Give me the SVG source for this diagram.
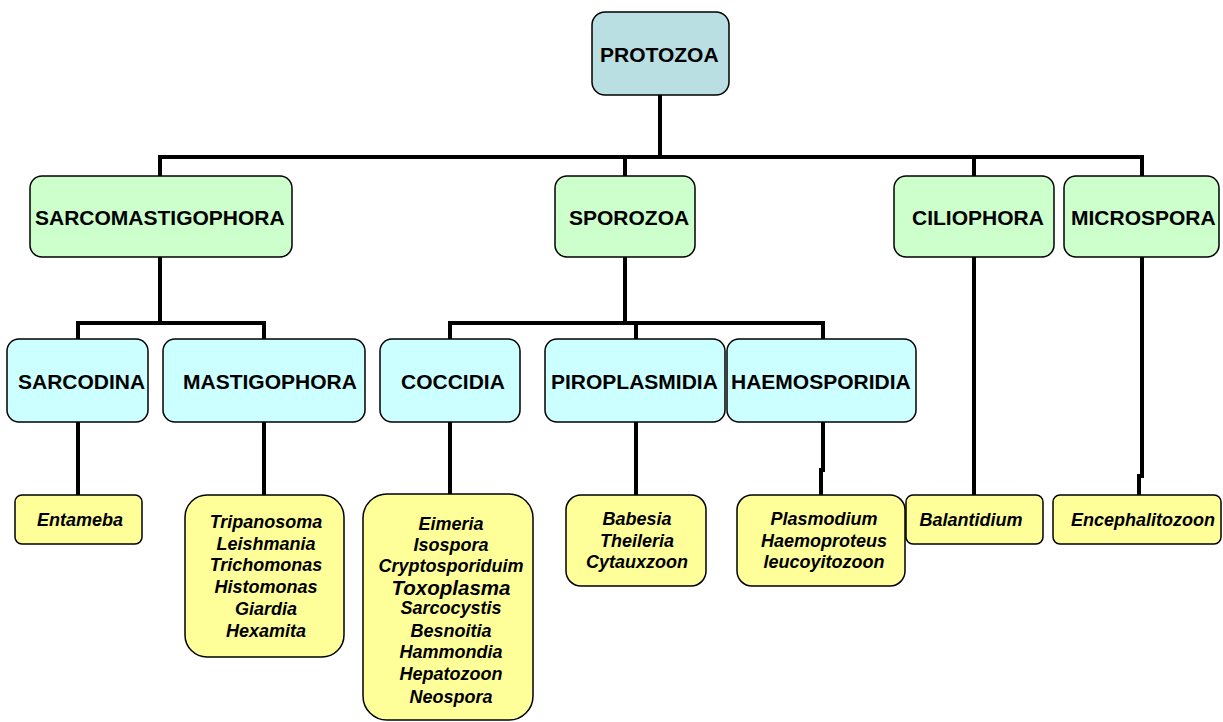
<svg xmlns="http://www.w3.org/2000/svg" width="1223" height="722" viewBox="0 0 1223 722">
<style>
.box{stroke:#000;stroke-width:1.5}
.root{fill:#b9dfe3}
.l1{fill:#ccffcc}
.l2{fill:#ccffff}
.l3{fill:#ffff99}
.t{font-family:"Liberation Sans",Arial,sans-serif;font-weight:bold;font-size:21px;fill:#000}
.g{font-family:"Liberation Sans",Arial,sans-serif;font-weight:bold;font-style:italic;font-size:18px;fill:#000;text-anchor:middle}
.conn{fill:none;stroke:#000;stroke-width:4;stroke-linejoin:miter;stroke-linecap:square}
</style>
<rect width="1223" height="722" fill="#fff"/>
<g id="connectors">
<path class="conn" d="M660 96 V157"/>
<path class="conn" d="M160 175 V157 H1142 V175"/>
<path class="conn" d="M625 157 V175"/>
<path class="conn" d="M974 157 V175"/>
<path class="conn" d="M160 258 V323"/>
<path class="conn" d="M78 338 V323 H264 V338"/>
<path class="conn" d="M625 258 V323"/>
<path class="conn" d="M450 338 V323 H823 V338"/>
<path class="conn" d="M636 323 V338"/>
<path class="conn" d="M974 258 V493"/>
<path class="conn" d="M1142 258 V476 H1139 V493"/>
<path class="conn" d="M78 423 V493"/>
<path class="conn" d="M264 423 V493"/>
<path class="conn" d="M450 423 V493"/>
<path class="conn" d="M636 423 V493"/>
<path class="conn" d="M823 423 V470 H821 V493"/>
</g>
<g id="protozoa">
<rect class="box root" x="592" y="12" width="137" height="83" rx="13"/>
<text class="t" x="600" y="62">PROTOZOA</text>
</g>
<g id="sarcomastigophora">
<rect class="box l1" x="30" y="176" width="262" height="81" rx="12"/>
<text class="t" x="35" y="225">SARCOMASTIGOPHORA</text>
</g>
<g id="sporozoa">
<rect class="box l1" x="555" y="176" width="140" height="81" rx="12"/>
<text class="t" x="569" y="225">SPOROZOA</text>
</g>
<g id="ciliophora">
<rect class="box l1" x="894" y="176" width="160" height="81" rx="12"/>
<text class="t" x="912" y="225">CILIOPHORA</text>
</g>
<g id="microspora">
<rect class="box l1" x="1064" y="176" width="155" height="81" rx="12"/>
<text class="t" x="1071" y="225">MICROSPORA</text>
</g>
<g id="sarcodina">
<rect class="box l2" x="7" y="339" width="141" height="83" rx="12"/>
<text class="t" x="18" y="389">SARCODINA</text>
</g>
<g id="mastigophora">
<rect class="box l2" x="163" y="339" width="202" height="83" rx="12"/>
<text class="t" x="183" y="389">MASTIGOPHORA</text>
</g>
<g id="coccidia">
<rect class="box l2" x="380" y="339" width="140" height="83" rx="12"/>
<text class="t" x="401" y="389">COCCIDIA</text>
</g>
<g id="piroplasmidia">
<rect class="box l2" x="545" y="339" width="180" height="83" rx="12"/>
<text class="t" x="551" y="389">PIROPLASMIDIA</text>
</g>
<g id="haemosporidia">
<rect class="box l2" x="727" y="339" width="189" height="83" rx="12"/>
<text class="t" x="731" y="389">HAEMOSPORIDIA</text>
</g>
<g id="entameba">
<rect class="box l3" x="15" y="495" width="127" height="49" rx="7"/>
<text class="g" x="80" y="526">Entameba</text>
</g>
<g id="mastigophora-genera">
<rect class="box l3" x="185" y="495" width="159" height="162" rx="22"/>
<text class="g" x="266"><tspan x="266" y="528">Tripanosoma</tspan><tspan x="266" y="550">Leishmania</tspan><tspan x="266" y="571">Trichomonas</tspan><tspan x="266" y="593">Histomonas</tspan><tspan x="266" y="615">Giardia</tspan><tspan x="266" y="637">Hexamita</tspan></text>
</g>
<g id="coccidia-genera">
<rect class="box l3" x="363" y="494" width="170" height="226" rx="24"/>
<text class="g" x="450"><tspan x="451" y="530">Eimeria</tspan><tspan x="451" y="551">Isospora</tspan><tspan x="451" y="572">Cryptosporiduim</tspan><tspan x="451" y="595" style="font-size:20.5px">Toxoplasma</tspan><tspan x="451" y="614">Sarcocystis</tspan><tspan x="451" y="637">Besnoitia</tspan><tspan x="451" y="658">Hammondia</tspan><tspan x="451" y="680">Hepatozoon</tspan><tspan x="451" y="703">Neospora</tspan></text>
</g>
<g id="piroplasmidia-genera">
<rect class="box l3" x="566" y="495" width="140" height="91" rx="15"/>
<text class="g" x="637"><tspan x="637" y="525">Babesia</tspan><tspan x="637" y="547">Theileria</tspan><tspan x="637" y="568">Cytauxzoon</tspan></text>
</g>
<g id="haemosporidia-genera">
<rect class="box l3" x="737" y="495" width="168" height="91" rx="15"/>
<text class="g" x="824"><tspan x="824" y="525">Plasmodium</tspan><tspan x="824" y="547">Haemoproteus</tspan><tspan x="824" y="568">leucoyitozoon</tspan></text>
</g>
<g id="balantidium">
<rect class="box l3" x="906" y="495" width="137" height="49" rx="7"/>
<text class="g" x="971" y="526">Balantidium</text>
</g>
<g id="encephalitozoon">
<rect class="box l3" x="1053" y="495" width="168" height="49" rx="7"/>
<text class="g" x="1143" y="526">Encephalitozoon</text>
</g>
</svg>
